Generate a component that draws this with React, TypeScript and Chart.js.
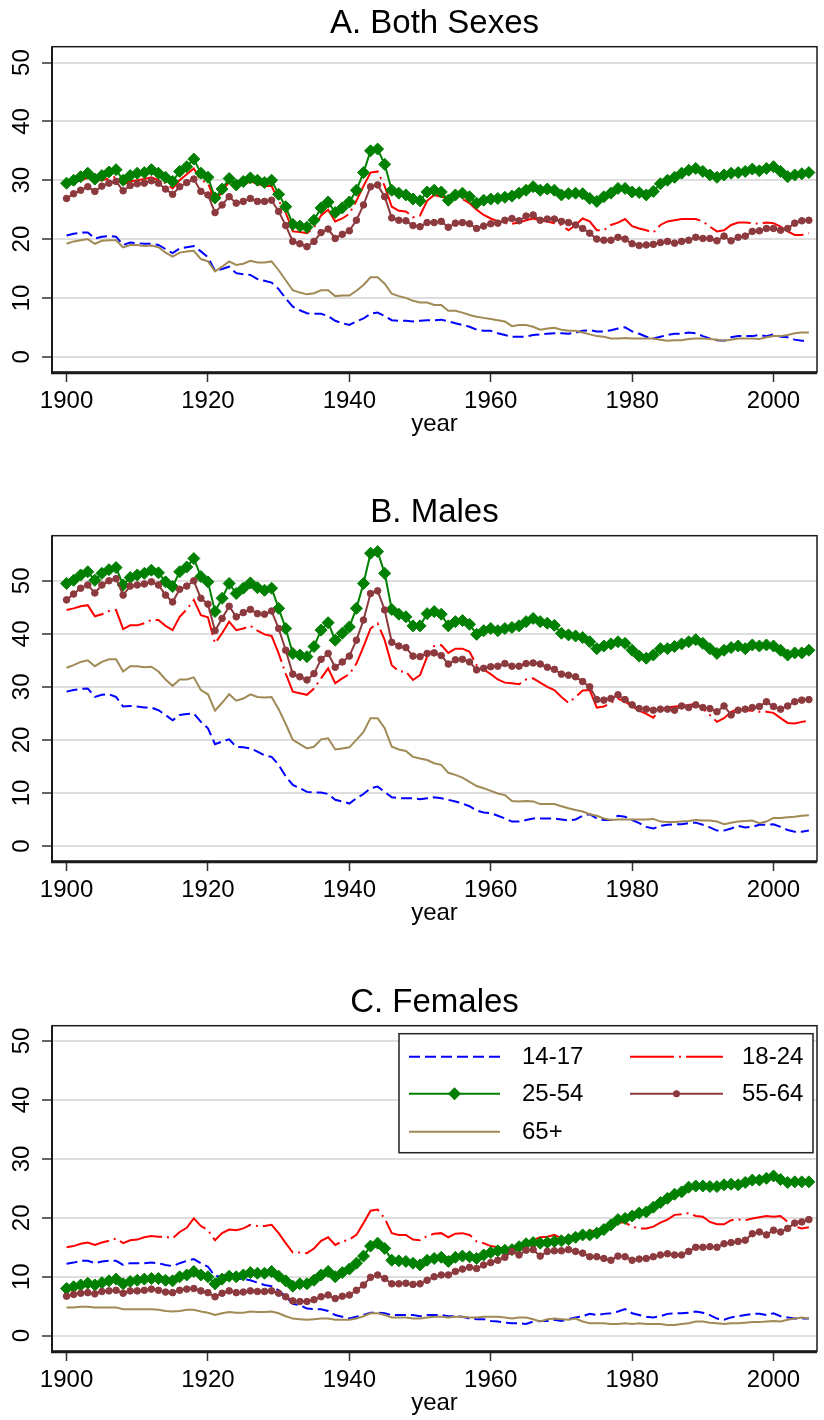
import React, { useEffect, useRef } from 'react';
import { Chart, registerables } from 'chart.js';

Chart.register(...registerables);

const FONT = "'Liberation Sans', Arial, Helvetica, sans-serif";

const years = [
  1900, 1901, 1902, 1903, 1904, 1905, 1906, 1907, 1908, 1909,
  1910, 1911, 1912, 1913, 1914, 1915, 1916, 1917, 1918, 1919,
  1920, 1921, 1922, 1923, 1924, 1925, 1926, 1927, 1928, 1929,
  1930, 1931, 1932, 1933, 1934, 1935, 1936, 1937, 1938, 1939,
  1940, 1941, 1942, 1943, 1944, 1945, 1946, 1947, 1948, 1949,
  1950, 1951, 1952, 1953, 1954, 1955, 1956, 1957, 1958, 1959,
  1960, 1961, 1962, 1963, 1964, 1965, 1966, 1967, 1968, 1969,
  1970, 1971, 1972, 1973, 1974, 1975, 1976, 1977, 1978, 1979,
  1980, 1981, 1982, 1983, 1984, 1985, 1986, 1987, 1988, 1989,
  1990, 1991, 1992, 1993, 1994, 1995, 1996, 1997, 1998, 1999,
  2000, 2001, 2002, 2003, 2004, 2005,
];

const seriesLabels = ['14-17', '18-24', '25-54', '55-64', '65+'];
const xTicks = [1900, 1920, 1940, 1960, 1980, 2000];
const yTicks = [0, 10, 20, 30, 40, 50];
const panelTitles = ['A. Both Sexes', 'B. Males', 'C. Females'];
const axisTitle = 'year';

// ---------- A. Both Sexes ----------
const bothAge1417 = [
  20.6, 20.9, 21.1, 21.1, 20.1, 20.4, 20.5, 20.4, 19.0, 19.4,
  19.3, 19.2, 19.2, 19.0, 18.3, 17.6, 18.4, 18.6, 18.8, 17.9,
  16.9, 14.6, 14.9, 15.3, 14.2, 14.0, 13.9, 13.2, 12.9, 12.6,
  11.5, 9.9, 8.5, 7.9, 7.4, 7.3, 7.3, 6.9, 6.1, 5.7,
  5.4, 6.0, 6.5, 7.3, 7.5, 6.9, 6.2, 6.1, 6.1, 6.0,
  6.1, 6.2, 6.2, 6.3, 6.0, 5.7, 5.4, 5.1, 4.6, 4.4,
  4.4, 4.0, 3.7, 3.4, 3.4, 3.4, 3.7, 3.8, 3.9, 4.0,
  4.0, 3.9, 4.1, 4.4, 4.5, 4.3, 4.3, 4.5, 4.8, 5.0,
  4.3, 3.9, 3.4, 3.1, 3.4, 3.7, 3.9, 3.9, 4.1, 4.0,
  3.5, 3.1, 2.8, 2.7, 3.3, 3.5, 3.5, 3.5, 3.7, 3.5,
  3.8, 3.4, 3.3, 2.9, 2.7, 2.8,
];
const bothAge1824 = [
  29.0, 29.6, 30.0, 30.4, 30.0, 30.0, 30.3, 30.6, 29.3, 29.8,
  30.0, 30.2, 30.5, 30.0, 29.5, 28.6, 30.0, 31.0, 32.0, 30.0,
  29.5, 26.5, 28.0, 29.8, 29.0, 29.2, 29.8, 29.4, 29.0, 29.0,
  26.5, 24.5, 21.3, 21.2, 21.0, 22.0, 24.0, 25.0, 23.0, 23.5,
  24.3, 26.5, 29.0, 31.3, 31.5, 29.0, 25.5, 24.8, 24.7, 23.7,
  24.0, 26.5, 27.5, 27.2, 27.0, 27.2, 26.8, 26.1, 25.0, 24.1,
  23.5, 23.0, 22.7, 22.6, 22.8, 23.2, 23.5, 23.2, 23.0, 22.7,
  22.4, 21.5, 22.4, 23.5, 23.0, 21.5, 21.5, 22.4, 22.8, 23.4,
  22.2, 21.8, 21.5, 21.1, 22.4, 23.0, 23.2, 23.4, 23.4, 23.4,
  23.0, 22.1, 21.3, 21.5, 22.4, 22.8, 22.8, 22.7, 22.6, 22.8,
  22.7, 22.1, 21.3, 20.7, 20.7, 21.0,
];
const bothAge2554 = [
  29.5, 30.0, 30.6, 31.2, 30.2, 30.8, 31.4, 31.8, 30.0, 30.8,
  31.2, 31.3, 31.8, 31.2, 30.5, 29.8, 31.5, 32.3, 33.6, 31.2,
  30.5, 27.0, 28.5, 30.3, 29.2, 29.8, 30.4, 30.0, 29.6, 30.0,
  27.6, 25.5, 22.5, 22.2, 22.0, 23.2, 25.3, 26.3, 24.5, 25.3,
  26.3, 28.3, 31.3, 35.0, 35.3, 32.7, 28.3, 27.8, 27.5, 26.8,
  26.5, 28.0, 28.3, 28.0, 26.6, 27.5, 27.8, 27.2, 26.1, 26.6,
  26.8, 26.9, 27.1, 27.3, 27.8, 28.3, 28.9, 28.3, 28.5, 28.3,
  27.5, 27.7, 27.8, 27.7, 26.9, 26.4, 27.2, 27.8, 28.6, 28.6,
  28.0, 27.9, 27.5, 28.1, 29.4, 30.0, 30.5, 31.2, 31.7, 32.0,
  31.5, 30.9, 30.5, 30.9, 31.2, 31.3, 31.5, 31.9, 31.6, 32.0,
  32.3, 31.5, 30.6, 30.9, 31.1, 31.3,
];
const bothAge5564 = [
  26.9, 27.7, 28.3, 28.9, 28.1, 29.0, 29.5, 29.8, 28.2, 29.1,
  29.4, 29.5, 29.9, 29.5, 28.5, 27.6, 28.9, 29.6, 30.2, 28.1,
  27.5, 24.5, 25.8, 27.2, 26.1, 26.4, 26.9, 26.4, 26.4, 26.6,
  24.7, 22.3, 19.6, 19.2, 18.7, 19.6, 21.1, 21.7, 20.1, 20.8,
  21.4, 23.2, 25.8, 28.9, 29.2, 27.2, 23.6, 23.2, 23.1, 22.3,
  22.1, 22.8, 22.8, 23.0, 22.0, 22.7, 22.8, 22.6, 21.8, 22.2,
  22.6, 22.7, 23.2, 23.5, 23.1, 23.9, 24.1, 23.2, 23.4, 23.4,
  23.0, 22.8, 22.4, 21.8, 21.0, 20.0, 19.8, 19.8, 20.3, 20.0,
  19.2, 18.9, 19.0, 19.1, 19.4, 19.6, 19.3, 19.6, 19.8, 20.3,
  20.1, 20.1, 19.7, 20.5, 19.7, 20.3, 20.5, 21.3, 21.4, 21.8,
  21.8, 21.5, 21.8, 22.7, 23.1, 23.2,
];
const bothAge65 = [
  19.2, 19.6, 19.8, 20.0, 19.2, 19.7, 19.8, 19.8, 18.6, 19.0,
  19.0, 18.8, 18.9, 18.6, 17.7, 17.0, 17.7, 17.9, 18.0, 16.6,
  16.2, 14.5, 15.3, 16.2, 15.6, 15.8, 16.3, 16.0, 16.0, 16.2,
  14.7, 13.0, 11.3, 10.9, 10.6, 10.8, 11.3, 11.3, 10.3, 10.4,
  10.4, 11.2, 12.2, 13.5, 13.5, 12.4, 10.7, 10.3, 10.0, 9.5,
  9.2, 9.2, 8.8, 8.8, 7.8, 7.8, 7.5, 7.1, 6.8, 6.6,
  6.4, 6.2, 6.0, 5.2, 5.4, 5.4, 5.1, 4.6, 4.8, 4.9,
  4.6, 4.4, 4.4, 4.1, 3.8, 3.5, 3.4, 3.1, 3.1, 3.2,
  3.1, 3.1, 3.1, 3.1, 2.9, 2.7, 2.8, 2.8, 3.0, 3.1,
  3.1, 3.0, 2.9, 2.7, 2.9, 3.1, 3.1, 3.1, 3.0, 3.3,
  3.5, 3.5, 3.7, 4.0, 4.1, 4.1,
];

// ---------- B. Males ----------
const maleAge1417 = [
  29.1, 29.4, 29.6, 29.7, 28.1, 28.5, 28.6, 28.1, 26.3, 26.4,
  26.3, 26.1, 26.1, 25.6, 24.7, 23.7, 24.7, 24.9, 25.0, 23.4,
  22.2, 19.2, 19.7, 20.1, 18.7, 18.6, 18.4, 17.8, 17.1, 16.8,
  15.3, 13.1, 11.5, 10.9, 10.2, 10.1, 10.1, 9.8, 8.7, 8.4,
  8.0, 9.0, 9.8, 10.9, 11.2, 10.2, 9.2, 9.0, 9.0, 9.0,
  8.8, 9.0, 9.2, 9.0, 8.7, 8.4, 8.0, 7.5, 6.7, 6.3,
  6.2, 5.7, 5.2, 4.6, 4.6, 4.9, 5.2, 5.2, 5.2, 5.2,
  5.0, 4.8, 5.0, 5.7, 6.0, 5.2, 4.9, 4.9, 5.7, 5.5,
  4.9, 4.3, 3.6, 3.3, 3.8, 4.0, 4.1, 4.1, 4.3, 4.4,
  4.0, 3.5, 2.9, 2.9, 3.3, 3.8, 3.5, 3.6, 4.0, 4.0,
  4.1, 3.6, 3.0, 2.7, 2.7, 2.9,
];
const maleAge1824 = [
  44.5, 44.8, 45.2, 45.4, 43.3, 43.7, 44.3, 44.5, 40.9, 41.6,
  41.6, 42.0, 42.6, 42.6, 41.5, 40.7, 43.2, 44.6, 46.4, 43.5,
  43.1, 38.2, 40.1, 42.3, 40.7, 41.0, 41.5, 40.6, 39.9, 39.6,
  36.3, 32.5, 29.1, 28.8, 28.5, 29.7, 31.6, 33.5, 30.7, 31.6,
  32.4, 34.4, 37.6, 41.0, 42.0, 38.8, 34.1, 32.9, 32.9, 31.3,
  32.2, 35.7, 37.7, 37.9, 36.4, 37.2, 37.2, 36.6, 34.1, 33.3,
  32.4, 31.4, 30.8, 30.7, 30.5, 31.4, 31.6, 30.8, 30.0, 29.4,
  28.1, 27.0, 28.1, 29.3, 29.4, 26.1, 26.3, 27.0, 27.8, 27.2,
  26.3, 25.5, 24.9, 24.2, 25.8, 26.1, 26.3, 26.4, 26.6, 26.8,
  25.9, 24.7, 23.4, 24.1, 25.3, 25.8, 25.6, 25.5, 25.3, 25.3,
  25.1, 24.1, 23.2, 23.1, 23.4, 23.6,
];
const maleAge2554 = [
  49.5, 50.1, 51.1, 51.7, 50.1, 51.4, 52.1, 52.5, 49.2, 50.6,
  51.1, 51.4, 52.0, 51.5, 49.8, 48.9, 51.7, 52.6, 54.2, 50.8,
  49.8, 44.2, 46.7, 49.5, 47.6, 48.6, 49.6, 48.7, 48.2, 48.6,
  44.8, 41.0, 36.3, 36.0, 35.7, 37.6, 40.7, 42.1, 38.8, 40.1,
  41.3, 44.8, 49.5, 55.2, 55.5, 51.4, 44.6, 43.7, 43.2, 41.5,
  41.5, 43.8, 44.2, 43.7, 41.5, 42.3, 42.5, 41.8, 39.9, 40.6,
  41.0, 40.6, 41.0, 41.2, 41.5, 42.3, 42.9, 42.3, 42.0, 41.6,
  40.1, 39.8, 39.6, 39.3, 38.5, 37.2, 37.7, 38.1, 38.5, 38.2,
  36.9, 35.8, 35.4, 36.0, 37.2, 37.2, 37.6, 38.1, 38.5, 38.9,
  38.2, 37.2, 36.3, 36.9, 37.4, 37.7, 37.2, 37.9, 37.7, 37.9,
  37.7, 36.9, 36.0, 36.4, 36.4, 36.9,
];
const maleAge5564 = [
  46.4, 47.5, 48.6, 49.2, 47.7, 49.2, 50.0, 50.4, 47.3, 49.0,
  49.2, 49.4, 49.8, 49.2, 47.3, 46.0, 48.4, 49.0, 50.0, 46.7,
  45.6, 40.6, 42.9, 45.2, 43.2, 44.0, 44.6, 43.8, 43.7, 44.3,
  41.0, 36.9, 32.4, 31.9, 31.3, 32.5, 35.2, 36.3, 33.7, 34.7,
  35.8, 38.8, 42.6, 47.6, 48.1, 44.5, 38.4, 37.7, 37.4, 35.8,
  35.7, 36.3, 36.4, 35.9, 34.3, 35.1, 35.2, 34.7, 33.2, 33.5,
  33.8, 33.9, 34.4, 33.9, 33.9, 34.4, 34.5, 34.3, 33.7, 33.3,
  32.4, 32.2, 31.9, 31.0, 30.0, 27.6, 27.5, 27.8, 28.5, 27.6,
  26.6, 25.9, 25.8, 25.6, 25.8, 25.8, 25.6, 26.4, 26.1, 26.6,
  26.1, 25.9, 25.3, 26.4, 24.7, 25.6, 25.8, 26.1, 26.3, 27.2,
  26.3, 25.8, 26.4, 27.2, 27.5, 27.6,
];
const maleAge65 = [
  33.6, 34.1, 34.7, 35.0, 33.9, 34.7, 35.2, 35.2, 32.9, 33.9,
  33.9, 33.7, 33.8, 32.9, 31.4, 30.2, 31.4, 31.4, 31.8, 29.4,
  28.6, 25.5, 27.0, 28.6, 27.4, 27.8, 28.6, 28.1, 28.0, 28.1,
  25.8, 23.0, 20.0, 19.2, 18.4, 18.7, 20.1, 20.3, 18.2, 18.4,
  18.6, 20.0, 21.5, 24.1, 24.1, 22.2, 18.7, 18.2, 17.9, 16.8,
  16.5, 16.2, 15.6, 15.3, 13.8, 13.4, 12.9, 12.1, 11.3, 10.9,
  10.4, 9.9, 9.6, 8.5, 8.4, 8.5, 8.4, 7.9, 7.9, 7.9,
  7.5, 7.1, 6.8, 6.5, 6.0, 5.7, 5.2, 4.9, 5.0, 5.0,
  5.0, 5.0, 5.0, 5.1, 4.6, 4.5, 4.5, 4.6, 4.7, 4.9,
  4.8, 4.8, 4.6, 4.1, 4.4, 4.6, 4.7, 4.8, 4.3, 4.6,
  5.3, 5.3, 5.4, 5.5, 5.7, 5.8,
];

// ---------- C. Females ----------
const femaleAge1417 = [
  12.2, 12.4, 12.7, 12.7, 12.3, 12.6, 12.7, 12.7, 12.0, 12.3,
  12.3, 12.3, 12.4, 12.3, 12.0, 11.8, 12.3, 12.7, 13.0, 12.3,
  11.7, 10.1, 10.1, 10.5, 9.7, 9.6, 9.4, 9.0, 8.6, 8.4,
  7.7, 6.6, 5.4, 5.2, 4.6, 4.5, 4.5, 4.2, 3.5, 3.2,
  2.9, 3.2, 3.5, 3.9, 3.9, 3.8, 3.5, 3.5, 3.5, 3.5,
  3.3, 3.5, 3.5, 3.5, 3.3, 3.3, 3.2, 2.9, 2.8, 2.8,
  2.5, 2.4, 2.2, 2.1, 2.1, 2.0, 2.4, 2.5, 2.5, 2.7,
  2.5, 2.8, 3.1, 3.3, 3.7, 3.5, 3.7, 3.8, 4.1, 4.5,
  3.8, 3.5, 3.2, 3.1, 3.3, 3.7, 3.8, 3.8, 3.9, 4.1,
  3.9, 3.5, 2.9, 2.7, 3.1, 3.3, 3.5, 3.7, 3.7, 3.5,
  3.8, 3.3, 3.1, 2.9, 2.9, 2.9,
];
const femaleAge1824 = [
  15.0, 15.2, 15.6, 15.8, 15.4, 15.8, 16.1, 16.5, 15.7, 16.2,
  16.3, 16.7, 16.9, 16.8, 16.8, 16.5, 17.6, 18.3, 19.9, 18.6,
  17.9, 16.2, 17.4, 18.0, 17.9, 18.2, 18.8, 18.6, 18.6, 18.8,
  17.4, 15.7, 14.1, 14.1, 14.0, 14.8, 16.1, 16.7, 15.4, 16.0,
  16.3, 17.1, 19.1, 21.2, 21.4, 19.9, 17.4, 17.1, 17.1, 16.3,
  16.2, 16.9, 17.3, 17.4, 16.7, 17.3, 17.4, 17.1, 16.0, 15.7,
  15.2, 15.0, 14.8, 14.8, 15.1, 15.7, 16.2, 16.7, 16.8, 17.1,
  16.5, 16.7, 17.1, 17.5, 17.9, 17.6, 17.9, 18.5, 19.2, 19.2,
  18.5, 18.2, 18.2, 18.5, 19.2, 19.7, 20.5, 20.6, 20.8, 20.3,
  20.2, 19.3, 18.9, 18.9, 19.6, 19.7, 19.6, 19.9, 20.1, 20.3,
  20.2, 20.3, 19.3, 18.5, 18.2, 18.4,
];
const femaleAge2554 = [
  8.0, 8.3, 8.6, 8.9, 8.6, 9.0, 9.3, 9.6, 8.8, 9.2,
  9.4, 9.6, 9.7, 9.7, 9.4, 9.3, 10.0, 10.3, 10.9, 10.3,
  10.0, 8.8, 9.6, 10.1, 10.0, 10.3, 10.7, 10.6, 10.6, 10.9,
  10.1, 9.3, 8.4, 8.8, 8.8, 9.4, 10.3, 10.9, 10.0, 10.7,
  11.3, 12.3, 13.5, 15.2, 15.7, 14.8, 12.8, 12.7, 12.6, 12.3,
  12.0, 12.8, 13.1, 13.3, 12.6, 13.3, 13.5, 13.4, 13.1, 13.7,
  14.1, 14.4, 14.5, 14.6, 15.1, 15.6, 15.8, 15.7, 15.8, 16.0,
  16.1, 16.3, 16.7, 17.1, 17.1, 17.4, 18.0, 18.8, 19.7, 19.9,
  20.3, 20.8, 21.0, 21.8, 22.6, 23.3, 24.0, 24.4, 25.2, 25.4,
  25.4, 25.3, 25.3, 25.6, 25.7, 25.6, 26.0, 26.4, 26.4, 26.7,
  27.1, 26.5, 26.0, 26.1, 26.1, 26.1,
];
const femaleAge5564 = [
  6.7, 7.0, 7.2, 7.3, 7.1, 7.5, 7.6, 7.7, 7.2, 7.6,
  7.6, 7.7, 7.9, 7.7, 7.4, 7.3, 7.7, 7.9, 8.0, 7.6,
  7.3, 6.6, 7.2, 7.6, 7.3, 7.4, 7.6, 7.5, 7.5, 7.6,
  7.2, 6.6, 5.9, 5.8, 5.8, 6.1, 6.6, 6.9, 6.3, 6.7,
  6.9, 7.7, 8.6, 9.9, 10.3, 9.7, 8.8, 8.8, 8.9, 8.7,
  8.8, 9.4, 10.0, 10.3, 10.3, 10.9, 11.3, 11.6, 11.4, 12.0,
  12.4, 12.8, 13.3, 14.3, 13.7, 14.5, 14.6, 13.5, 14.3, 14.4,
  14.4, 14.6, 14.3, 14.0, 13.4, 13.4, 13.1, 12.8, 13.5, 13.4,
  12.8, 13.0, 13.1, 13.4, 13.7, 13.9, 13.7, 13.7, 14.3, 15.0,
  15.0, 15.1, 15.0, 15.6, 15.8, 16.0, 16.2, 17.3, 17.6, 17.1,
  17.9, 17.6, 18.2, 19.1, 19.3, 19.7,
];
const femaleAge65 = [
  4.8, 4.8, 4.9, 4.9, 4.8, 4.8, 4.8, 4.8, 4.5, 4.5,
  4.5, 4.5, 4.5, 4.4, 4.2, 4.1, 4.2, 4.4, 4.4, 4.1,
  3.9, 3.5, 3.8, 4.0, 3.9, 3.9, 4.1, 4.0, 4.0, 4.1,
  3.8, 3.3, 2.9, 2.8, 2.7, 2.8, 2.9, 2.9, 2.7, 2.7,
  2.7, 2.9, 3.3, 3.8, 3.8, 3.5, 3.1, 3.1, 3.1, 2.9,
  2.9, 3.1, 3.2, 3.2, 3.1, 3.2, 3.2, 3.1, 3.1, 3.2,
  3.2, 3.2, 3.1, 2.9, 3.1, 3.1, 2.8, 2.4, 2.8, 2.9,
  2.8, 2.7, 2.9, 2.4, 2.1, 2.1, 2.1, 2.0, 2.0, 2.1,
  2.0, 2.1, 2.0, 2.0, 2.0, 1.8, 1.8, 2.0, 2.1, 2.4,
  2.4, 2.2, 2.1, 2.0, 2.1, 2.1, 2.2, 2.3, 2.3, 2.4,
  2.5, 2.4, 2.7, 2.9, 3.1, 2.9,
];

// ---------- styles ----------
const seriesStyles = [
  { color: '#0000ff', dash: [11, 5], pointStyle: 'circle', radius: 0 },
  { color: '#ff0000', dash: [44, 5, 2, 5], pointStyle: 'circle', radius: 0 },
  { color: '#008000', dash: [], pointStyle: 'rectRot', radius: 6 },
  { color: '#8c3a3e', dash: [], pointStyle: 'circle', radius: 3.3 },
  { color: '#a08a55', dash: [], pointStyle: 'circle', radius: 0 },
];

const framePlugin = {
  id: 'stataFrame',
  afterDraw(chart: any) {
    const { ctx, chartArea } = chart;
    const { left, top, right, bottom } = chartArea;
    ctx.save();
    ctx.strokeStyle = '#1a1a1a';
    ctx.lineWidth = 1.5;
    ctx.strokeRect(left, top, right - left, bottom - top);
    ctx.lineWidth = 2;
    ctx.beginPath();
    ctx.moveTo(left, top);
    ctx.lineTo(left, bottom + 2);
    ctx.stroke();
    ctx.lineWidth = 2.5;
    ctx.beginPath();
    ctx.moveTo(left - 1, bottom + 1);
    ctx.lineTo(right, bottom + 1);
    ctx.stroke();
    ctx.restore();
  },
};

const legendPlugin = {
  id: 'boxLegend',
  afterDraw(chart: any, _args: any, opts: any) {
    if (!opts || !opts.show) return;
    const { ctx, chartArea } = chart;
    const bw = 414;
    const bh = 119;
    const bx = chartArea.right - bw - 4;
    const by = chartArea.top + 8;
    ctx.save();
    ctx.fillStyle = '#ffffff';
    ctx.fillRect(bx, by, bw, bh);
    ctx.strokeStyle = '#222222';
    ctx.lineWidth = 1.5;
    ctx.strokeRect(bx, by, bw, bh);
    const rowY = [23, 60, 98];
    chart.data.datasets.forEach((ds: any, i: number) => {
      const col = i % 2;
      const row = Math.floor(i / 2);
      const x0 = bx + (col ? 231 : 10);
      const x1 = bx + (col ? 324 : 101);
      const y = by + rowY[row];
      ctx.strokeStyle = ds.borderColor;
      ctx.lineWidth = 2;
      ctx.setLineDash(ds.borderDash || []);
      ctx.beginPath();
      ctx.moveTo(x0, y);
      ctx.lineTo(x1, y);
      ctx.stroke();
      ctx.setLineDash([]);
      const cx = (x0 + x1) / 2;
      if (ds.pointRadius > 0) {
        ctx.fillStyle = ds.borderColor;
        ctx.beginPath();
        if (ds.pointStyle === 'rectRot') {
          const r = 6.5;
          ctx.moveTo(cx - r, y);
          ctx.lineTo(cx, y - r);
          ctx.lineTo(cx + r, y);
          ctx.lineTo(cx, y + r);
          ctx.closePath();
        } else {
          ctx.arc(cx, y, 3.5, 0, Math.PI * 2);
        }
        ctx.fill();
      }
      ctx.fillStyle = '#000000';
      ctx.font = `24px ${FONT}`;
      ctx.textAlign = 'left';
      ctx.textBaseline = 'middle';
      ctx.fillText(ds.label, bx + (col ? 343 : 123), y + 1);
    });
    ctx.restore();
  },
};

type PanelProps = {
  title: string;
  series: number[][];
  yMin: number;
  yMax: number;
  top: number;
  height: number;
  padBottom: number;
  showLegend: boolean;
};

function Panel({ title, series, yMin, yMax, top, height, padBottom, showLegend }: PanelProps) {
  const ref = useRef<HTMLCanvasElement | null>(null);

  useEffect(() => {
    if (!ref.current) return;
    const datasets = series.map((vals, i) => {
      const st = seriesStyles[i];
      return {
        label: seriesLabels[i],
        data: years.map((yr, j) => ({ x: yr, y: vals[j] })),
        borderColor: st.color,
        backgroundColor: st.color,
        borderWidth: 2,
        borderDash: st.dash,
        pointStyle: st.pointStyle,
        pointRadius: st.radius,
        pointBorderWidth: st.radius > 0 ? 1 : 0,
        pointBackgroundColor: st.color,
        pointBorderColor: st.color,
        tension: 0,
        order: 4 - i,
      };
    });

    const chart = new Chart(ref.current, {
      type: 'line',
      data: { datasets },
      plugins: [framePlugin, legendPlugin],
      options: {
        responsive: false,
        animation: false,
        devicePixelRatio: 1,
        layout: { padding: { left: 0, right: 1, top: 0, bottom: padBottom } },
        plugins: {
          legend: { display: false },
          tooltip: { enabled: false },
          title: {
            display: true,
            text: title,
            fullSize: false,
            color: '#000000',
            font: { family: FONT, size: 33, weight: 'normal' },
            padding: { top: 4.5, bottom: 2.6 },
          },
          boxLegend: { show: showLegend },
        } as any,
        scales: {
          x: {
            type: 'linear',
            min: 1897.94,
            max: 2006.15,
            afterBuildTicks: (axis: any) => {
              axis.ticks = xTicks.map((v) => ({ value: v }));
            },
            afterFit: (axis: any) => {
              axis.height = 69;
            },
            border: { display: false },
            grid: {
              drawOnChartArea: false,
              drawTicks: true,
              tickLength: 10,
              tickColor: '#333333',
              tickWidth: 1.5,
            },
            ticks: {
              autoSkip: false,
              maxRotation: 0,
              padding: 4.5,
              color: '#000000',
              font: { family: FONT, size: 24 },
              callback: (v: any) => String(v),
            },
            title: {
              display: true,
              text: axisTitle,
              color: '#000000',
              font: { family: FONT, size: 24 },
              padding: { top: 0, bottom: 2 },
            },
          },
          y: {
            type: 'linear',
            min: yMin,
            max: yMax,
            afterBuildTicks: (axis: any) => {
              axis.ticks = yTicks.map((v) => ({ value: v }));
            },
            afterFit: (axis: any) => {
              axis.width = 52;
            },
            border: { display: false },
            grid: {
              color: '#dedede',
              lineWidth: 2,
              drawTicks: true,
              tickLength: 10,
              tickColor: '#333333',
              tickWidth: 1.5,
            },
            ticks: {
              minRotation: 90,
              maxRotation: 90,
              crossAlign: 'center',
              padding: 6,
              color: '#000000',
              font: { family: FONT, size: 24 },
              callback: (v: any) => String(v),
            },
          },
        },
      } as any,
    });
    return () => chart.destroy();
  }, []);

  return (
    <canvas
      ref={ref}
      width={824}
      height={height}
      style={{ position: 'absolute', left: 0, top, width: 824, height, display: 'block' }}
    />
  );
}

export default function App() {
  return (
    <div
      style={{
        position: 'absolute',
        left: 0,
        top: 0,
        width: 824,
        height: 1420,
        overflow: 'hidden',
        background: '#ffffff',
      }}
    >
      <Panel
        title={panelTitles[0]}
        series={[bothAge1417, bothAge1824, bothAge2554, bothAge5564, bothAge65]}
        yMin={-2.6}
        yMax={52.7}
        top={0}
        height={489}
        padBottom={48}
        showLegend={false}
      />
      <Panel
        title={panelTitles[1]}
        series={[maleAge1417, maleAge1824, maleAge2554, maleAge5564, maleAge65]}
        yMin={-2.83}
        yMax={58.5}
        top={489}
        height={489}
        padBottom={48}
        showLegend={false}
      />
      <Panel
        title={panelTitles[2]}
        series={[femaleAge1417, femaleAge1824, femaleAge2554, femaleAge5564, femaleAge65]}
        yMin={-2.6}
        yMax={52.6}
        top={979}
        height={441}
        padBottom={0}
        showLegend={true}
      />
    </div>
  );
}
